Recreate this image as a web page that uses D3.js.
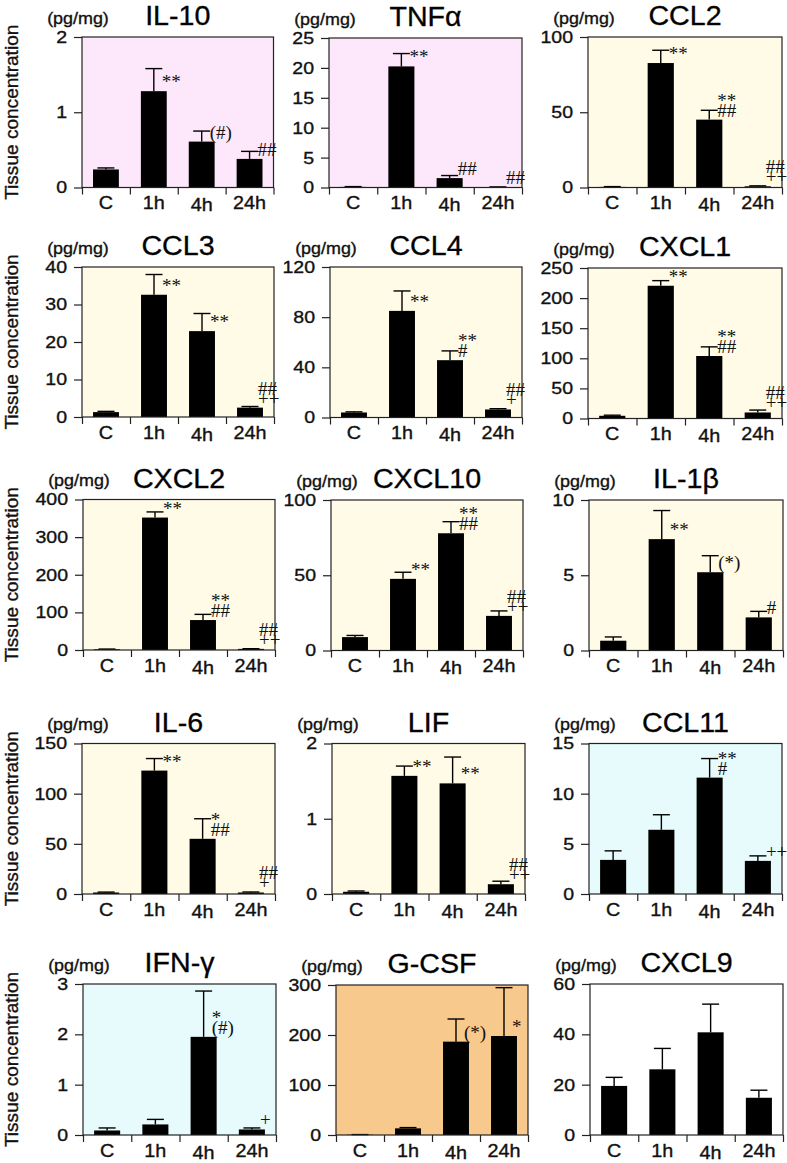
<!DOCTYPE html>
<html>
<head>
<meta charset="utf-8">
<script src="https://cdn.jsdelivr.net/npm/d3@7"></script>
<style>
  body { margin: 0; background: #fff; }
  svg text.sans { stroke: #111; stroke-width: 0.35px; }
</style>
</head>
<body>
<div id="chart"></div>
<script>
// categories on every x axis
var categories = ["C", "1h", "4h", "24h"];

// one entry per panel, read row by row
var panelNames = ["IL-10", "TNFα", "CCL2",
                  "CCL3", "CCL4", "CXCL1",
                  "CXCL2", "CXCL10", "IL-1β",
                  "IL-6", "LIF", "CCL11",
                  "IFN-γ", "G-CSF", "CXCL9"];

// mean tissue concentration (pg/mg)
var meanValues = [
  [0.24, 1.28, 0.61, 0.38],
  [0.1, 20.25, 1.57, 0.06],
  [0.4, 82.7, 45.1, 0.8],
  [1.3, 32.6, 22.9, 2.5],
  [4.0, 85, 45.7, 6.4],
  [4.5, 220.5, 103.8, 10],
  [2, 352, 79.6, 3],
  [8.9, 47.6, 77.9, 23],
  [0.65, 7.4, 5.2, 2.2],
  [1.5, 123, 55, 1.5],
  [0.03, 1.57, 1.47, 0.13],
  [3.4, 6.4, 11.6, 3.3],
  [0.09, 0.21, 1.95, 0.11],
  [0.5, 13.3, 186.7, 198],
  [19.5, 26.1, 40.8, 14.8]
];

// error (SEM) added on top of each bar
var semValues = [
  [0.02, 0.30, 0.14, 0.10],
  [0.05, 2.15, 0.43, 0.04],
  [0.2, 8.5, 6.2, 0.3],
  [0.2, 5.4, 4.7, 0.3],
  [0.5, 15.9, 7.4, 0.6],
  [1, 8.5, 15.2, 4],
  [0.5, 15, 15.1, 0.5],
  [1.1, 4.4, 7.7, 3.3],
  [0.25, 1.9, 1.1, 0.4],
  [0.4, 12, 20, 0.5],
  [0.01, 0.13, 0.35, 0.04],
  [0.9, 1.5, 1.9, 0.5],
  [0.05, 0.10, 0.91, 0.03],
  [0.3, 1.5, 45.3, 96.7],
  [3.4, 8.3, 11.2, 3]
];

var yMaxValues = [2, 25, 100, 40, 120, 250, 400, 100, 10, 150, 2, 15, 3, 300, 60];

var yTickValues = [
  [0, 1, 2],
  [0, 5, 10, 15, 20, 25],
  [0, 50, 100],
  [0, 10, 20, 30, 40],
  [0, 40, 80, 120],
  [0, 50, 100, 150, 200, 250],
  [0, 100, 200, 300, 400],
  [0, 50, 100],
  [0, 5, 10],
  [0, 50, 100, 150],
  [0, 1, 2],
  [0, 5, 10, 15],
  [0, 1, 2, 3],
  [0, 100, 200, 300],
  [0, 20, 40, 60]
];

// significance marks per bar (stacked lines, top first)
var sigMarks = [
  [[], ["**"], ["(#)"], ["##"]],
  [[], ["**"], ["##"], ["##"]],
  [[], ["**"], ["**", "##"], ["##", "++"]],
  [[], ["**"], ["**"], ["##", "++"]],
  [[], ["**"], ["**", "#"], ["##", "+"]],
  [[], ["**"], ["**", "##"], ["##", "++"]],
  [[], ["**"], ["**", "##"], ["##", "++"]],
  [[], ["**"], ["**", "##"], ["##", "++"]],
  [[], ["**"], ["(*)"], ["#"]],
  [[], ["**"], ["*", "##"], ["##", "+"]],
  [[], ["**"], ["**"], ["##", "++"]],
  [[], [], ["**", "#"], ["++"]],
  [[], [], ["*", "(#)"], ["+"]],
  [[], [], ["(*)"], ["*"]],
  [[], [], [], []]
];

// panel background colours
var panelFill = ["#fde7fb", "#fde7fb", "#fffbe7",
                 "#fffbe7", "#fffbe7", "#fffbe7",
                 "#fffbe7", "#fffbe7", "#fffbe7",
                 "#fffbe7", "#fffbe7", "#e7fbfd",
                 "#e7fbfd", "#f8c98c", "#ffffff"];

// plot rectangles [left, top, right, bottom] in page pixels
var panelBoxes = [
  [82, 37, 273.5, 187.5], [329, 38, 522, 187.5], [588, 37, 782, 187.5],
  [82, 267, 274, 417], [330, 267, 522, 417.5], [588, 268, 782, 418.5],
  [83, 499.5, 275, 650], [331, 500, 523, 650.5], [589, 500, 783, 650.5],
  [82, 743.5, 275, 894], [332, 743.5, 525, 894], [589, 743.5, 782, 894],
  [83, 984, 276, 1135], [336, 985, 528, 1135], [590, 984, 783, 1135]
];

var SANS = '"Liberation Sans", Arial, Helvetica, sans-serif';
var SERIF = '"Liberation Serif", "Times New Roman", serif';
var SX = 1.15;      // the source lettering is wider than Arial
var capHalf = 8.5;

var svg = d3.select("#chart").append("svg")
  .attr("width", 787)
  .attr("height", 1163);

panelNames.forEach(function(name, i) {
  var box = panelBoxes[i];
  var w = box[2] - box[0];
  var h = box[3] - box[1];

  var g = svg.append("g")
    .attr("transform", `translate(${box[0]},${box[1]})`);

  var y = d3.scaleLinear().domain([0, yMaxValues[i]]).range([h, 0]);
  var x = d3.scaleBand().domain(categories).range([0, w])
    .paddingInner(0.46).paddingOuter(0.23);
  var xEdge = d3.scaleLinear().domain([0, categories.length]).range([0, w]);

  // background
  g.append("rect")
    .attr("width", w).attr("height", h)
    .attr("fill", panelFill[i]);

  var rows = categories.map(function(c, j) {
    return { cat: c, mean: meanValues[i][j], sem: semValues[i][j], marks: sigMarks[i][j] };
  });

  // bars
  g.selectAll("rect.bar")
    .data(rows)
    .enter()
    .append("rect")
    .attr("class", "bar")
    .attr("x", d => x(d.cat))
    .attr("y", d => y(d.mean))
    .attr("width", x.bandwidth())
    .attr("height", d => h - y(d.mean))
    .attr("fill", "#000");

  // error bars (upper only)
  var err = g.selectAll("g.err")
    .data(rows)
    .enter()
    .append("g")
    .attr("class", "err")
    .attr("stroke", "#000")
    .attr("stroke-width", 1.4);
  err.append("line")
    .attr("x1", d => x(d.cat) + x.bandwidth() / 2)
    .attr("x2", d => x(d.cat) + x.bandwidth() / 2)
    .attr("y1", d => y(d.mean))
    .attr("y2", d => y(d.mean + d.sem));
  err.append("line")
    .attr("x1", d => x(d.cat) + x.bandwidth() / 2 - capHalf)
    .attr("x2", d => x(d.cat) + x.bandwidth() / 2 + capHalf)
    .attr("y1", d => y(d.mean + d.sem))
    .attr("y2", d => y(d.mean + d.sem));

  // frame
  g.append("rect")
    .attr("width", w).attr("height", h)
    .attr("fill", "none")
    .attr("stroke", "#222")
    .attr("stroke-width", 1.2);

  // y axis
  var yAxis = g.append("g")
    .call(d3.axisLeft(y).tickValues(yTickValues[i]).tickFormat(d3.format("d"))
      .tickSize(8).tickSizeOuter(0).tickPadding(7));
  yAxis.select(".domain").remove();
  yAxis.selectAll("line").attr("stroke", "#222").attr("stroke-width", 1.2);
  yAxis.selectAll("text")
    .attr("class", "sans")
    .attr("font-family", SANS)
    .attr("font-size", 17)
    .attr("fill", "#111")
    .attr("x", -15 / SX)
    .attr("transform", `scale(${SX},1)`);

  // boundary ticks under the x axis
  var edgeAxis = g.append("g")
    .attr("transform", `translate(0,${h})`)
    .call(d3.axisBottom(xEdge).ticks(categories.length).tickSize(7).tickSizeOuter(0).tickFormat(""));
  edgeAxis.select(".domain").remove();
  edgeAxis.selectAll("line").attr("stroke", "#222").attr("stroke-width", 1.2);

  // category labels
  var catAxis = g.append("g")
    .attr("transform", `translate(0,${h})`)
    .call(d3.axisBottom(x).tickSize(0).tickPadding(9));
  catAxis.select(".domain").remove();
  catAxis.selectAll("text")
    .attr("class", "sans")
    .attr("font-family", SANS)
    .attr("font-size", 18)
    .attr("fill", "#111")
    .attr("dy", d => d === "4h" ? "0.82em" : "0.71em")
    .attr("transform", "scale(1.1,1)");

  // significance marks
  rows.forEach(function(d) {
    if (!d.marks.length) return;
    var tx = x(d.cat) + x.bandwidth() / 2 + 8;
    var base = y(d.mean) - 3;
    d.marks.forEach(function(s, k) {
      g.append("text")
        .attr("x", tx)
        .attr("y", base - (d.marks.length - 1 - k) * 10)
        .attr("font-family", SERIF)
        .attr("font-size", 19)
        .attr("fill", "#111")
        .text(s);
    });
  });

  // title and unit
  g.append("text")
    .attr("class", "sans")
    .attr("transform", `translate(${w / 2},-12) scale(1.06,1)`)
    .attr("text-anchor", "middle")
    .attr("font-family", SANS)
    .attr("font-size", 27)
    .attr("fill", "#000")
    .text(name);
  g.append("text")
    .attr("class", "sans")
    .attr("transform", `translate(-4,-13.5) scale(1.12,1)`)
    .attr("text-anchor", "middle")
    .attr("font-family", SANS)
    .attr("font-size", 16)
    .attr("fill", "#111")
    .text("(pg/mg)");

  // y title on the first column only
  if (i % 3 === 0) {
    svg.append("text")
      .attr("class", "sans")
      .attr("transform", `translate(12,${(box[1] + box[3]) / 2}) rotate(-90) scale(1.06,1)`)
      .attr("text-anchor", "middle")
      .attr("dominant-baseline", "central")
      .attr("font-family", SANS)
      .attr("font-size", 18)
      .attr("fill", "#111")
      .text("Tissue concentration");
  }
});
</script>
</body>
</html>
